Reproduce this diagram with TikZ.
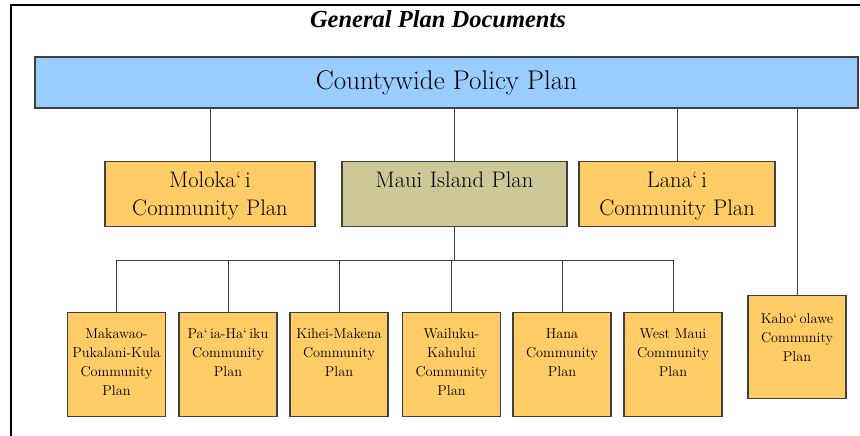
\documentclass[tikz,border=0pt]{standalone}
\usepackage{fontspec}
\newfontfamily\titlefont{Liberation Serif}
\definecolor{policyblue}{RGB}{153,204,255}
\definecolor{planorange}{RGB}{255,204,102}
\definecolor{mauitan}{RGB}{206,199,152}
\definecolor{boxline}{RGB}{64,64,64}
\definecolor{linegray}{RGB}{60,60,60}
\begin{document}
\begin{tikzpicture}[x=1pt, y=-1pt,
	plan/.style={draw=boxline, line width=1.2pt, anchor=north, align=center, inner xsep=2pt, inner ysep=6pt},
	midplan/.style={plan, font=\fontsize{22.5}{28}\selectfont, text height=20pt, text depth=33pt},
	smallplan/.style={plan, fill=planorange, font=\fontsize{14.3}{19}\selectfont, text width=94pt, text height=20pt, text depth=72pt},
	link/.style={draw=linegray, line width=0.8pt}]
\useasboundingbox (0,0) rectangle (860,436);

	%% Rahmen und Titel
	\draw[line width=2.5pt] (11,436) -- (11,5) -- (860,5);
	\node[font=\titlefont\bfseries\itshape\fontsize{24.5}{27}\selectfont] (title) at (438,19) {General Plan Documents};
	%%%%%%%%%%%%%%%%

	%% Countywide
	\node[draw=boxline, fill=policyblue, line width=1.2pt, minimum width=823pt, minimum height=51pt, inner sep=0pt,
		font=\fontsize{27}{30}\selectfont] (countywide) at (446.5,82.5) {Countywide Policy Plan};

	%% mittlere Ebene
	\node[midplan, fill=planorange, text width=206pt] (molokai) at (210,161) {Moloka`\,i\\Community Plan};
	\node[midplan, fill=mauitan, text width=221pt] (maui) at (454.5,161) {Maui Island Plan};
	\node[midplan, fill=planorange, text width=192pt] (lanai) at (677,161) {Lana`\,i\\Community Plan};
	\node[smallplan, text height=22pt, text depth=69pt] (kahoolawe) at (797,295) {Kaho`\,olawe\\Community\\Plan};

	%% Maui Gemeinden
	\node[smallplan] (makawao) at (116.5,312) {Makawao-\\Pukalani-Kula\\Community\\Plan};
	\node[smallplan] (paia) at (228,312) {Pa`\,ia-Ha`\,iku\\Community\\Plan};
	\node[smallplan] (kihei) at (339,312) {Kihei-Makena\\Community\\Plan};
	\node[smallplan] (wailuku) at (451.5,312) {Wailuku-\\Kahului\\Community\\Plan};
	\node[smallplan] (hana) at (562,312) {Hana\\Community\\Plan};
	\node[smallplan] (westmaui) at (673,312) {West Maui\\Community\\Plan};
	%%%%%%%%%%%%%%%%

	%% Verbindungen
	\foreach \n in {molokai, maui, lanai, kahoolawe}
		\draw[link] (\n.north) -- (\n.north |- countywide.south);
	\coordinate (bus) at (454.5,260);
	\draw[link] (maui.south) -- (maui.south |- bus);
	\draw[link] (makawao.north |- bus) -- (westmaui.north |- bus);
	\foreach \n in {makawao, paia, kihei, wailuku, hana, westmaui}
		\draw[link] (\n.north) -- (\n.north |- bus);
\end{tikzpicture}
\end{document}
